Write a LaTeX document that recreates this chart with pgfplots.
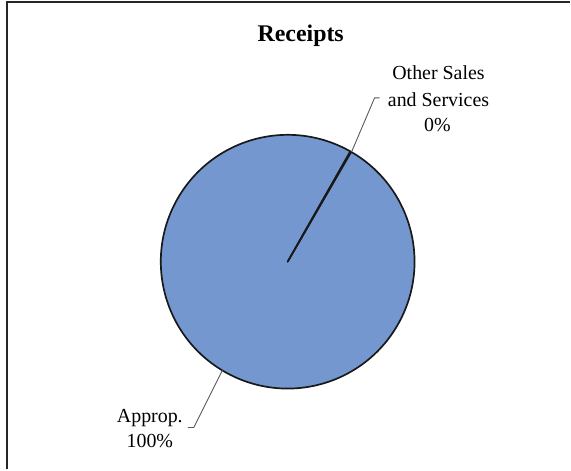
\documentclass[border=0pt]{standalone}
\usepackage{pgfplots}
\pgfplotsset{compat=1.18}
\usepackage{pgfplotstable}
\usepackage{fontspec}
\setmainfont{Liberation Serif}
\definecolor{pieblue}{RGB}{116,151,208}
\pgfplotstableread{
label value
Approp 99.9
Other 0.1
}\piedata
\begin{document}
\begin{tikzpicture}
\pgfplotstablegetelem{0}{value}\of\piedata \let\va\pgfplotsretval
\pgfplotstablegetelem{1}{value}\of\piedata \let\vb\pgfplotsretval
\pgfmathsetmacro{\total}{\va+\vb}
\pgfmathsetmacro{\aA}{(\va/\total)*360}
\pgfmathsetmacro{\aB}{(\vb/\total)*360}
\pgfmathsetmacro{\startA}{60}
\pgfmathsetmacro{\startB}{\startA-\aA}
\begin{axis}[scale only axis, width=571bp, height=470bp,
  xmin=0, xmax=571, ymin=0, ymax=470, hide axis, clip=false]
\path (0,0) (571,470);
% frame (left and top visible)
\draw[line width=1.3pt, black!85] (7,0) -- (7,468) -- (571,468);
% pie slices
\filldraw[fill=pieblue, draw=black!90, line width=1.7pt, line join=round]
  (288,208) -- ++(\startA:127bp) arc[start angle=\startA, delta angle=-\aA, radius=127bp] -- cycle;
\filldraw[fill=pieblue, draw=black!90, line width=1.7pt, line join=round]
  (288,208) -- ++(\startB:127bp) arc[start angle=\startB, delta angle=-\aB, radius=127bp] -- cycle;
% leader lines
\draw[gray!70!black, line width=0.9pt] (352,318) -- (375,372) -- (380,372);
\draw[gray!70!black, line width=0.9pt] (223,100) -- (194,42) -- (188,42);
% labels
\node[anchor=base, font=\fontsize{24}{28}\selectfont\bfseries] at (301,428) {Receipts};
\node[anchor=base, font=\fontsize{20}{26}\selectfont] at (439,390) {Other Sales};
\node[anchor=base, font=\fontsize{20}{26}\selectfont] at (439,363) {and Services};
\node[anchor=base, font=\fontsize{20}{26}\selectfont] at (438,338) {0\%};
\node[anchor=base, font=\fontsize{20}{26}\selectfont] at (150,47) {Approp.};
\node[anchor=base, font=\fontsize{20}{26}\selectfont] at (150,22) {100\%};
\end{axis}
\end{tikzpicture}
\end{document}
